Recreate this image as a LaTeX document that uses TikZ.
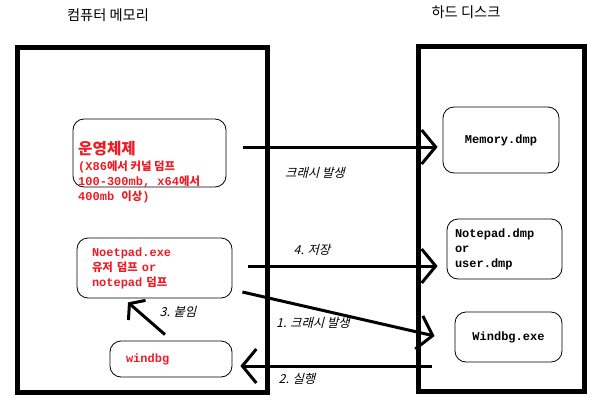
\documentclass[tikz,border=0pt]{standalone}
\usepackage{fontspec}
\setmainfont{Liberation Mono}
\newfontfamily\kr[Scale=0.95]{Noto Sans CJK KR}
\newfontfamily\krit[Scale=0.95,FakeSlant=0.25]{Noto Sans CJK KR}
\usetikzlibrary{arrows.meta}
\definecolor{dumpred}{RGB}{237,28,36}
\newcommand{\ko}[1]{{\kr #1}}

\tikzset{
  frame/.style={line width=5pt},
  dumpbox/.style={draw, line width=0.8pt, rounded corners=11pt, inner sep=0pt},
  boxtext/.style={font=\bfseries\fontsize{12}{15}\selectfont},
  redtext/.style={boxtext, text=dumpred},
  flow/.style={line width=3pt, -{Straight Barb[length=14pt,width=34pt]}},
  steplabel/.style={font=\krit\fontsize{13}{15}\selectfont},
  areatitle/.style={font=\kr\fontsize{15}{18}\selectfont}
}

\begin{document}
\begin{tikzpicture}[x=1pt, y=-1pt]
    \useasboundingbox (0,0) rectangle (606,413);
    \node[areatitle] (memtitle) at (108,15) {컴퓨터 메모리} ;
    \node[areatitle] (disktitle) at (466,12) {하드 디스크} ;
    \draw[frame] (17.5,47.5) rectangle (267,392);
    \draw[frame] (418,46.5) rectangle (584,391);

    \node[dumpbox, minimum width=153pt, minimum height=68pt] (os) at (149.5,153) {} ;
    \node[redtext, anchor=north west, align=left, inner sep=0pt] (ostext) at (78,141)
      {{\kr\fontsize{16.5}{19}\selectfont 운영체제}\\[1pt](X86\ko{에서 커널 덤프}\\100-300mb, x64\ko{에서}\\400mb \ko{이상})} ;
    \node[dumpbox, redtext, align=left, text width=125pt, inner xsep=15pt, minimum height=60pt] (np) at (154.5,268)
      {Noetpad.exe\\\ko{유저 덤프} or\\notepad \ko{덤프}} ;
    \node[dumpbox, redtext, align=left, text width=90pt, inner xsep=16pt, minimum height=36pt] (wd) at (171,359) {windbg} ;

    \node[dumpbox, boxtext, minimum width=116pt, minimum height=66pt] (mem) at (501,140) {Memory.dmp} ;
    \node[dumpbox, boxtext, align=left, text width=99pt, inner xsep=8pt, minimum height=60pt] (ndmp) at (504.5,249)
      {Notepad.dmp\\or\\user.dmp} ;
    \node[dumpbox, boxtext, minimum width=107pt, minimum height=50pt] (wexe) at (508.5,337) {Windbg.exe} ;

    \draw[flow] ([shift={(17,-6)}]os.east) -- ([shift={(-5,7)}]mem.west);
    \node[steplabel] (crash) at (315,173) {크래시 발생} ;
    \draw[flow] ([shift={(16,-2)}]np.east) -- ([shift={(-9,17)}]ndmp.west);
    \node[steplabel] (save) at (312,250) {4. 저장} ;
    \draw[flow] ([shift={(10,24)}]np.east) -- ([shift={(-20,-1)}]wexe.west);
    \node[steplabel] (crashone) at (313,323) {1. 크래시 발생} ;
    \draw[flow] ([shift={(-23,29)}]wexe.west) -- ([shift={(8,7)}]wd.east);
    \node[steplabel] (run) at (297,379) {2. 실행} ;
    \draw[flow, -{Straight Barb[length=10pt,width=26pt]}] ([shift={(-6,-6)}]wd.north) -- ([shift={(-26.5,4)}]np.south);
    \node[steplabel] (attach) at (178,312) {3. 붙임} ;
  \end{tikzpicture}
\end{document}
